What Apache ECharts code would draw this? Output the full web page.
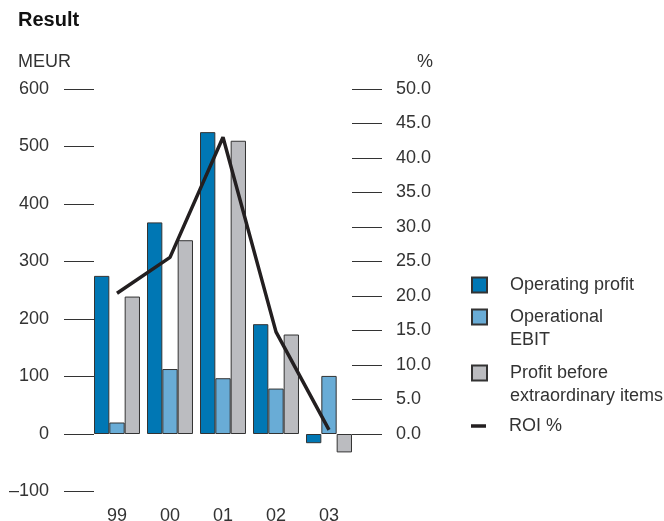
<!DOCTYPE html>
<html>
<head>
<meta charset="utf-8">
<title>Result</title>
<script src="https://cdn.jsdelivr.net/npm/echarts@6/dist/echarts.min.js"></script>
<style>
  html, body { margin: 0; padding: 0; background: #fff; }
  #chart { width: 664px; height: 521px; }
</style>
</head>
<body>
<div id="chart"></div>
<script>
// Years (last two digits)
const categories = ['99', '00', '01', '02', '03'];

// MEUR
const operatingProfit = [275, 368, 525, 191, -16];
const operationalEbit = [20, 113, 97, 79, 101];
const profitBeforeExtra = [239, 337, 510, 173, -32];

// %
const roiPercent = [20.4, 25.6, 43.0, 14.8, 0.6];

// Axis ranges
const meurTicks = { min: -100, max: 600, step: 100 };
const roiTicks = { min: 0, max: 50, step: 5 };

const FONT = '"Liberation Sans", Arial, Helvetica, sans-serif';
const FS = 18;
const TEXT = '#333';
const BORDER = '#333';
const COLORS = ['#0077b4', '#69acd6', '#bbbcc0'];
const ROI_COLOR = '#231f20';

const names = ['Operating profit', 'Operational\nEBIT', 'Profit before\nextraordinary items', 'ROI %'];

const gridLeft = 90.5, gridRight = 308.5;

// One legend block per entry so that two-line entries keep the swatch on their first line
function legendFor(name, top) {
  const twoLines = name.indexOf('\n') >= 0;
  return {
    left: 471,
    top: top,
    padding: 0,
    orient: 'vertical',
    itemWidth: 15,
    itemHeight: twoLines ? 38 : 15,
    symbolKeepAspect: false,
    textStyle: { fontFamily: FONT, fontSize: FS, color: TEXT, lineHeight: 23, padding: [0, 0, 0, 18] },
    data: [{
      name: name,
      icon: twoLines ? 'path://M0,0h15v15h-15zM15,38' : 'rect'
    }]
  };
}

const barSeries = [operatingProfit, operationalEbit, profitBeforeExtra].map((vals, i) => ({
  name: names[i],
  type: 'bar',
  xAxisIndex: 0,
  yAxisIndex: 0,
  barWidth: 15.33,
  barGap: '0%',
  data: vals,
  itemStyle: { color: COLORS[i], borderColor: BORDER, borderWidth: 1 },
  emphasis: { disabled: true }
}));

const option = {
  animation: false,
  backgroundColor: '#fff',
  textStyle: { fontFamily: FONT },
  title: [
    { text: 'Result', left: 18, top: 10, padding: 0,
      textStyle: { fontFamily: FONT, fontSize: 20, fontWeight: 'bold', color: '#111' } },
    { text: 'MEUR', left: 18, top: 53, padding: 0,
      textStyle: { fontFamily: FONT, fontSize: FS, fontWeight: 'normal', color: TEXT } },
    { text: '%', left: 433, textAlign: 'right', top: 53, padding: 0,
      textStyle: { fontFamily: FONT, fontSize: FS, fontWeight: 'normal', color: TEXT } }
  ],
  legend: [
    legendFor(names[0], 273.5),
    legendFor(names[1], 305.5),
    legendFor(names[2], 361.5),
    {
      left: 471, top: 414.5, padding: 0, orient: 'vertical',
      itemWidth: 15, itemHeight: 15,
      textStyle: { fontFamily: FONT, fontSize: FS, color: TEXT, lineHeight: 23, padding: [0, 0, 0, 18] },
      data: [{
        name: names[3],
        icon: 'path://M0,0M0,5.75h15v3.5h-15zM15,15',
        itemStyle: { color: ROI_COLOR, borderWidth: 0 }
      }]
    }
  ],
  grid: [
    { left: gridLeft, right: gridRight, top: 89, bottom: 29.5, outerBoundsMode: 'none', containLabel: false },
    { left: gridLeft, right: gridRight, top: 89, bottom: 87, outerBoundsMode: 'none', containLabel: false }
  ],
  xAxis: [
    {
      type: 'category', gridIndex: 0, data: categories,
      axisLine: { show: false }, axisTick: { show: false },
      axisLabel: { fontFamily: FONT, fontSize: FS, color: TEXT, margin: 16 }
    },
    {
      type: 'category', gridIndex: 1, data: categories, show: false
    }
  ],
  yAxis: [
    {
      type: 'value', gridIndex: 0, position: 'left', offset: -3.5,
      min: meurTicks.min, max: meurTicks.max, interval: meurTicks.step,
      axisLine: { show: false },
      axisTick: { show: true, length: 30, lineStyle: { color: '#333', width: 1 } },
      splitLine: { show: false },
      axisLabel: {
        fontFamily: FONT, fontSize: FS, color: TEXT, margin: 45,
        formatter: v => (v < 0 ? '\u2013' + Math.abs(v) : String(v))
      }
    },
    {
      type: 'value', gridIndex: 1, position: 'right', offset: -3.5,
      min: roiTicks.min, max: roiTicks.max, interval: roiTicks.step,
      axisLine: { show: false },
      axisTick: { show: true, length: 30, lineStyle: { color: '#333', width: 1 } },
      splitLine: { show: false },
      axisLabel: {
        fontFamily: FONT, fontSize: FS, color: TEXT, margin: 44, align: 'left',
        formatter: v => v.toFixed(1)
      }
    }
  ],
  series: barSeries.concat([{
    name: names[3],
    type: 'line',
    xAxisIndex: 1,
    yAxisIndex: 1,
    data: roiPercent,
    symbol: 'none',
    lineStyle: { color: ROI_COLOR, width: 3.5 },
    itemStyle: { color: ROI_COLOR },
    z: 5,
    emphasis: { disabled: true }
  }])
};

const chart = echarts.init(document.getElementById('chart'), null, { renderer: 'canvas' });
chart.setOption(option);
</script>
</body>
</html>
